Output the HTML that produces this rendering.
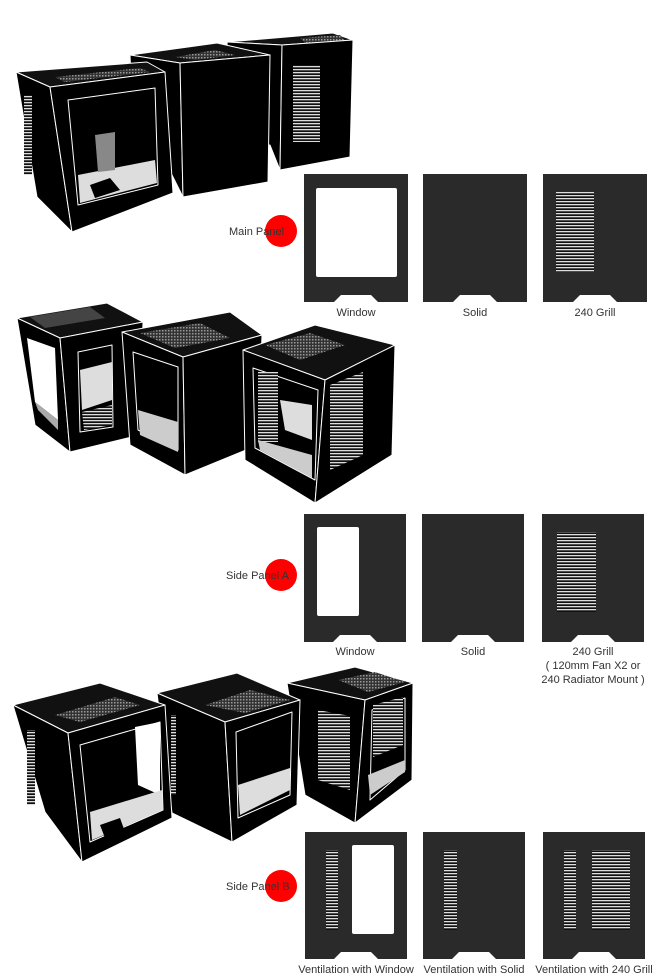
<!DOCTYPE html>
<html><head><meta charset="utf-8"><style>
body{margin:0;background:#fff;width:660px;height:979px;overflow:hidden}
svg{display:block}
text{font-family:"Liberation Sans",sans-serif;font-size:11px;fill:#333}
</style></head><body>
<svg width="660" height="979" viewBox="0 0 660 979" xmlns="http://www.w3.org/2000/svg">
<defs>
<pattern id="hl" width="4" height="3" patternUnits="userSpaceOnUse"><rect width="4" height="3" fill="#111"/><rect width="4" height="1.3" fill="#ddd"/></pattern>
<pattern id="tg" width="3" height="3" patternUnits="userSpaceOnUse"><rect width="3" height="3" fill="#333"/><rect width="1.5" height="1.5" fill="#999"/></pattern>
<g id="notch"><path d="M0 0 l7 -7 h30 l7 7z" fill="#fff"/></g>
</defs>
<g stroke="#fff" stroke-width="1" stroke-linejoin="round">
<!-- ROW 1 -->
<!-- C -->
<polygon points="227,42 333,33 353,40 282,45" fill="#111"/>
<polygon points="300,38 340,35 345,40 305,43" fill="url(#tg)" stroke="none"/>
<polygon points="227,42 282,45 280,170 270,145 232,150" fill="#000"/>
<polygon points="282,45 353,40 350,157 280,170" fill="#000"/>
<rect x="293" y="65" width="27" height="77" fill="url(#hl)" stroke="none"/>
<!-- B -->
<polygon points="130,55 217,43 270,55 180,63" fill="#111"/>
<polygon points="175,57 215,50 235,55 195,60" fill="url(#tg)" stroke="none"/>
<polygon points="130,55 180,63 183,197 172,175 135,165" fill="#000"/>
<polygon points="180,63 270,55 268,182 183,197" fill="#000"/>
<!-- A -->
<polygon points="16,72 147,62 165,72 50,87" fill="#111"/>
<polygon points="55,77 140,68 150,72 65,82" fill="url(#tg)" stroke="none"/>
<polygon points="16,72 50,87 72,232 37,197" fill="#000"/>
<rect x="24" y="95" width="8" height="80" fill="url(#hl)" stroke="none"/>
<polygon points="50,87 165,72 173,193 72,232" fill="#000"/>
<polygon points="68,100 155,88 158,185 78,205" fill="#000"/>
<polygon points="78,175 155,160 157,183 80,203" fill="#ddd" stroke="none"/>
<polygon points="90,185 110,178 120,190 95,198" fill="#000" stroke="none"/>
<polygon points="95,135 115,132 115,170 98,172" fill="#888" stroke="none"/>
<!-- ROW 2 -->
<!-- A -->
<polygon points="17,318 107,303 143,322 60,338" fill="#111"/>
<polygon points="30,317 90,307 105,318 45,328" fill="#444" stroke="none"/>
<polygon points="17,318 60,338 70,452 35,425" fill="#000"/>
<polygon points="27,338 55,348 58,420 35,402" fill="#fff" stroke="none"/>
<polygon points="35,402 58,420 58,430 38,410" fill="#aaa" stroke="none"/>
<polygon points="60,338 143,322 140,435 70,452" fill="#000"/>
<polygon points="78,352 112,345 113,427 80,432" fill="#000"/>
<polygon points="80,370 112,362 112,400 82,410" fill="#ddd" stroke="none"/>
<polygon points="82,412 112,405 112,425 84,430" fill="url(#hl)" stroke="none"/>
<!-- B -->
<polygon points="122,332 230,312 262,335 183,357" fill="#111"/>
<polygon points="140,333 200,323 230,338 175,348" fill="url(#tg)" stroke="none"/>
<polygon points="122,332 183,357 185,475 130,445" fill="#000"/>
<polygon points="133,352 178,367 178,450 138,430" fill="#000"/>
<polygon points="138,410 178,422 178,452 140,435" fill="#ccc" stroke="none"/>
<polygon points="183,357 262,335 258,445 185,475" fill="#000"/>
<!-- C -->
<polygon points="243,350 315,325 395,345 325,380" fill="#111"/>
<polygon points="265,345 310,333 345,345 300,360" fill="url(#tg)" stroke="none"/>
<polygon points="243,350 325,380 315,503 245,460" fill="#000"/>
<polygon points="253,368 318,390 315,480 255,448" fill="#000"/>
<rect x="258" y="372" width="20" height="70" fill="url(#hl)" stroke="none"/>
<polygon points="280,400 312,405 312,440 285,430" fill="#ddd" stroke="none"/>
<polygon points="258,440 312,455 312,478 260,450" fill="#ccc" stroke="none"/>
<polygon points="325,380 395,345 392,455 315,503" fill="#000"/>
<polygon points="330,385 363,372 363,455 330,470" fill="url(#hl)" stroke="none"/>
<!-- ROW 3 -->
<!-- C -->
<polygon points="287,683 355,667 413,683 365,700" fill="#111"/>
<polygon points="338,680 375,672 405,682 368,692" fill="url(#tg)" stroke="none"/>
<polygon points="287,683 365,700 355,823 305,795" fill="#000"/>
<polygon points="318,710 350,716 350,790 318,780" fill="url(#hl)" stroke="none"/>
<polygon points="365,700 413,683 412,780 355,823" fill="#000"/>
<polygon points="372,710 405,698 405,770 370,800" fill="#000"/>
<polygon points="373,705 403,697 403,745 373,757" fill="url(#hl)" stroke="none"/>
<polygon points="368,775 405,760 405,772 370,795" fill="#ccc" stroke="none"/>
<!-- B -->
<polygon points="157,693 237,673 300,700 225,722" fill="#111"/>
<polygon points="205,705 250,690 290,700 245,713" fill="url(#tg)" stroke="none"/>
<polygon points="157,693 225,722 232,842 172,813" fill="#000"/>
<rect x="171" y="715" width="5" height="80" fill="url(#hl)" stroke="none"/>
<polygon points="225,722 300,700 297,805 232,842" fill="#000"/>
<polygon points="236,732 292,712 290,795 238,818" fill="#000"/>
<polygon points="238,785 290,768 290,790 240,815" fill="#ddd" stroke="none"/>
<!-- A -->
<polygon points="13,705 100,683 165,705 68,733" fill="#111"/>
<polygon points="55,715 115,697 140,705 80,722" fill="url(#tg)" stroke="none"/>
<polygon points="13,705 68,733 82,862 45,812" fill="#000"/>
<rect x="27" y="730" width="8" height="75" fill="url(#hl)" stroke="none"/>
<polygon points="68,733 165,705 172,818 82,862" fill="#000"/>
<polygon points="80,745 160,722 163,810 90,842" fill="#000"/>
<polygon points="135,727 160,722 160,795 138,785" fill="#fff" stroke="none"/>
<polygon points="90,812 162,790 163,810 92,840" fill="#ddd" stroke="none"/>
<polygon points="100,825 120,818 125,832 105,838" fill="#000" stroke="none"/>
</g>

<!-- Panels row 1 -->
<g fill="#2a2a2a">
<rect x="304" y="174" width="104" height="128"/>
<rect x="423" y="174" width="104" height="128"/>
<rect x="543" y="174" width="104" height="128"/>
<rect x="304" y="514" width="102" height="128"/>
<rect x="422" y="514" width="102" height="128"/>
<rect x="542" y="514" width="102" height="128"/>
<rect x="305" y="832" width="102" height="127"/>
<rect x="423" y="832" width="102" height="127"/>
<rect x="543" y="832" width="102" height="127"/>
</g>
<use href="#notch" x="334" y="302"/><use href="#notch" x="453" y="302"/><use href="#notch" x="573" y="302"/>
<use href="#notch" x="333" y="642"/><use href="#notch" x="451" y="642"/><use href="#notch" x="571" y="642"/>
<use href="#notch" x="334" y="959"/><use href="#notch" x="452" y="959"/><use href="#notch" x="572" y="959"/>
<rect x="316" y="188" width="81" height="89" rx="2" fill="#fff"/>
<rect x="556" y="192" width="38" height="80" fill="url(#hl)"/>
<rect x="317" y="527" width="42" height="89" rx="2" fill="#fff"/>
<rect x="557" y="532" width="39" height="80" fill="url(#hl)"/>
<rect x="326" y="850" width="12" height="80" fill="url(#hl)"/>
<rect x="352" y="845" width="42" height="89" rx="2" fill="#fff"/>
<rect x="444" y="850" width="13" height="80" fill="url(#hl)"/>
<rect x="564" y="850" width="12" height="80" fill="url(#hl)"/>
<rect x="592" y="850" width="38" height="80" fill="url(#hl)"/>

<circle cx="281" cy="231" r="16" fill="#f00"/>
<circle cx="281" cy="575" r="16" fill="#f00"/>
<circle cx="281" cy="886" r="16" fill="#f00"/>
<text x="229" y="235">Main Panel</text>
<text x="226" y="579">Side Panel A</text>
<text x="226" y="890">Side Panel B</text>
<g text-anchor="middle">
<text x="356" y="316">Window</text><text x="475" y="316">Solid</text><text x="595" y="316">240 Grill</text>
<text x="355" y="655">Window</text><text x="473" y="655">Solid</text><text x="593" y="655">240 Grill</text>
<text x="593" y="669">( 120mm Fan X2 or</text><text x="593" y="683">240 Radiator Mount )</text>
<text x="356" y="973">Ventilation with Window</text><text x="474" y="973">Ventilation with Solid</text><text x="594" y="973">Ventilation with 240 Grill</text>
</g>
</svg>
</body></html>
